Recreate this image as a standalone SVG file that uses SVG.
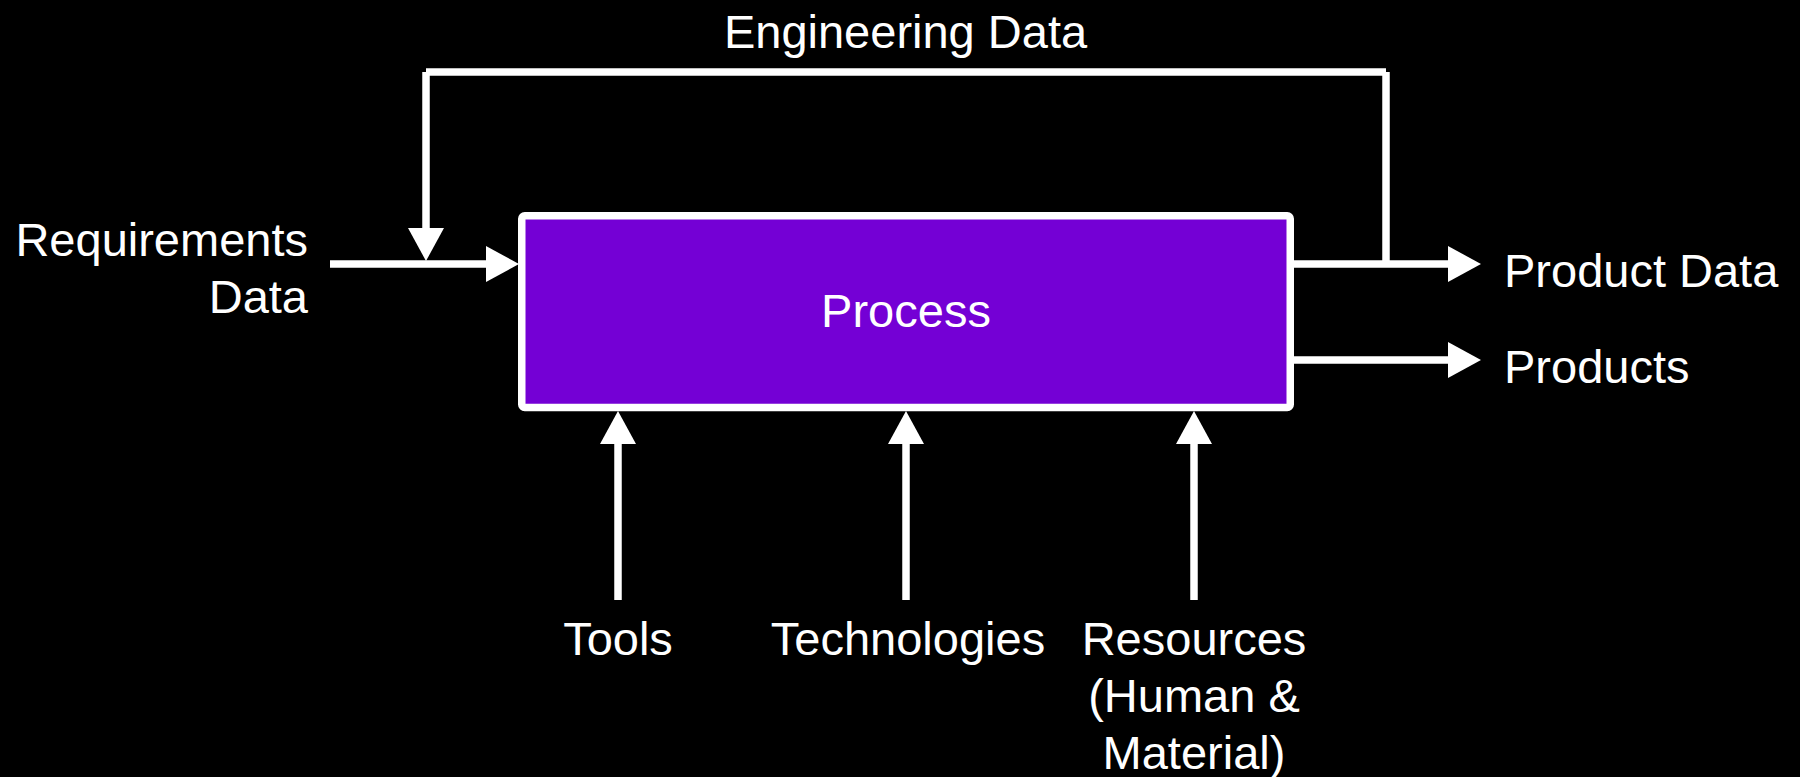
<svg xmlns="http://www.w3.org/2000/svg" width="1800" height="777" viewBox="0 0 1800 777">
  <style>
    .bg { fill: #000000; }
    .box { fill: #7400D5; stroke: #FFFFFF; stroke-width: 7.5; }
    .wire { stroke: #FFFFFF; stroke-width: 7.5; fill: none; stroke-linecap: butt; }
    .lbl { fill: #FFFFFF; font-family: "Liberation Sans", Arial, sans-serif; font-size: 47px; }
    .mid { text-anchor: middle; }
    .end { text-anchor: end; }
  </style>
  <defs>
    <marker id="arrow" viewBox="0 0 33 36" markerWidth="33" markerHeight="36" refX="0" refY="18" orient="auto" markerUnits="userSpaceOnUse">
      <path d="M0,0 L33,18 L0,36 Z" fill="#FFFFFF"/>
    </marker>
  </defs>
  <rect class="bg" x="0" y="0" width="1800" height="777"/>

  <g id="connectors">
    <line class="wire" x1="426" y1="72" x2="1386" y2="72"/>
    <line class="wire" x1="1386" y1="72" x2="1386" y2="264"/>
    <line class="wire" x1="426" y1="72" x2="426" y2="228" marker-end="url(#arrow)"/>
    <line class="wire" x1="330" y1="264" x2="486" y2="264" marker-end="url(#arrow)"/>
    <line class="wire" x1="1294" y1="264" x2="1448" y2="264" marker-end="url(#arrow)"/>
    <line class="wire" x1="1294" y1="360" x2="1448" y2="360" marker-end="url(#arrow)"/>
    <line class="wire" x1="618" y1="600" x2="618" y2="444" marker-end="url(#arrow)"/>
    <line class="wire" x1="906" y1="600" x2="906" y2="444" marker-end="url(#arrow)"/>
    <line class="wire" x1="1194" y1="600" x2="1194" y2="444" marker-end="url(#arrow)"/>
  </g>

  <g id="process">
    <rect class="box" x="521.75" y="215.75" width="768.5" height="191.75" rx="3"/>
    <text class="lbl mid" x="906" y="327">Process</text>
  </g>

  <g id="engineering-data">
    <text class="lbl mid" x="905.5" y="48">Engineering Data</text>
  </g>

  <g id="requirements-data">
    <text class="lbl end" x="308" y="256">Requirements</text>
    <text class="lbl end" x="308" y="313">Data</text>
  </g>

  <g id="product-data">
    <text class="lbl" x="1504" y="287">Product Data</text>
  </g>

  <g id="products">
    <text class="lbl" x="1504" y="383">Products</text>
  </g>

  <g id="tools">
    <text class="lbl mid" x="618" y="655">Tools</text>
  </g>

  <g id="technologies">
    <text class="lbl mid" x="908" y="655">Technologies</text>
  </g>

  <g id="resources">
    <text class="lbl mid" x="1194" y="655">Resources</text>
    <text class="lbl mid" x="1194" y="712">(Human &amp;</text>
    <text class="lbl mid" x="1194" y="769">Material)</text>
  </g>
</svg>
